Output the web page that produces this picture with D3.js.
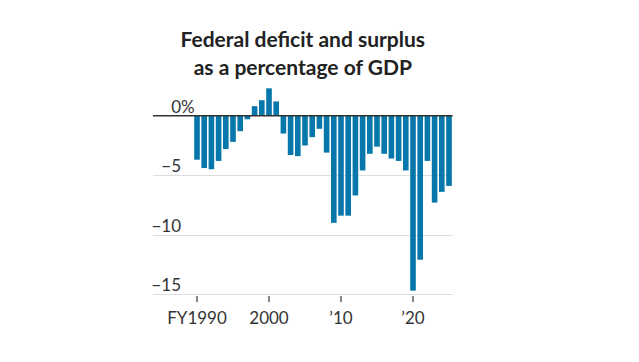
<!DOCTYPE html>
<html>
<head>
<meta charset="utf-8">
<script src="https://cdn.jsdelivr.net/npm/d3@7"></script>
<style>
  body { margin: 0; background: #fff; }
  svg text { font-family: Lato, "Noto Sans", sans-serif; }
</style>
</head>
<body>
<div id="chart"></div>
<script>
// fiscal years and deficit(-)/surplus(+) as % of GDP
const years = d3.range(1990, 2026);
const values = [
  -3.7, -4.4, -4.5, -3.8, -2.8, -2.2, -1.3, -0.3, 0.8, 1.3,
  2.3, 1.2, -1.5, -3.3, -3.4, -2.5, -1.8, -1.1, -3.1, -9.0,
  -8.4, -8.4, -6.7, -4.6, -3.2, -2.6, -3.2, -3.6, -3.8, -4.6,
  -14.7, -12.1, -3.8, -7.3, -6.4, -5.9
];
const yTicks = [0, -5, -10, -15];
const xTicks = [1990, 2000, 2010, 2020];
const xTickLabels = ["FY1990", "2000", "\u201910", "\u201920"];
const titleLines = ["Federal deficit and surplus", "as a percentage of GDP"];

const width = 639, height = 362;
const plot = {left: 153, barLeft: 193.4, right: 452.6};

const data = years.map((y, i) => ({year: y, value: values[i]}));

const svg = d3.select("#chart").append("svg")
    .attr("width", width)
    .attr("height", height);

// title
svg.append("g")
    .selectAll("text")
    .data(titleLines)
    .join("text")
        .attr("x", (plot.left + plot.right) / 2)
        .attr("y", (d, i) => 47 + i * 28)
        .attr("text-anchor", "middle")
        .style("font-size", "21px")
        .style("font-weight", "700")
        .style("fill", "#222")
        .text(d => d);

const x = d3.scaleBand()
    .domain(years)
    .range([plot.barLeft, plot.right])
    .paddingInner(0.22)
    .paddingOuter(0.11);

const y = d3.scaleLinear()
    .domain([0, -15])
    .range([115.7, 294.2]);

// grid lines
svg.append("g")
    .selectAll("line")
    .data(yTicks.filter(d => d !== 0))
    .join("line")
        .attr("x1", plot.left)
        .attr("x2", plot.right)
        .attr("y1", d => Math.round(y(d)) + 0.5)
        .attr("y2", d => Math.round(y(d)) + 0.5)
        .attr("stroke", "#dedede")
        .attr("stroke-width", 1);

// y labels, numbers right aligned, % hangs off the end
const yLab = svg.append("g")
    .selectAll("g")
    .data(yTicks)
    .join("g")
        .attr("transform", d => `translate(181, ${y(d) - 3})`);
yLab.append("text")
    .attr("text-anchor", "end")
    .style("font-size", "17px")
    .style("fill", "#333")
    .text(d => d === 0 ? "0" : "\u2212" + Math.abs(d));
yLab.filter(d => d === 0).append("text")
    .attr("text-anchor", "start")
    .style("font-size", "17px")
    .style("fill", "#333")
    .text("%");

// bars
svg.append("g")
    .selectAll("rect")
    .data(data)
    .join("rect")
        .attr("x", d => x(d.year))
        .attr("y", d => y(Math.max(0, d.value)))
        .attr("width", x.bandwidth())
        .attr("height", d => Math.abs(y(d.value) - y(0)))
        .attr("fill", "#0677aa");

// zero line
svg.append("line")
    .attr("x1", plot.left)
    .attr("x2", plot.right)
    .attr("y1", y(0))
    .attr("y2", y(0))
    .attr("stroke", "#333")
    .attr("stroke-width", 1.5);

// x ticks
const xAxis = svg.append("g")
    .selectAll("g")
    .data(xTicks)
    .join("g")
        .attr("transform", d => `translate(${x(d) + x.bandwidth() / 2}, 0)`);
xAxis.append("line")
    .attr("y1", 296)
    .attr("y2", 302)
    .attr("stroke", "#333")
    .attr("stroke-width", 1.2);
xAxis.append("text")
    .attr("y", 324)
    .attr("text-anchor", "middle")
    .style("font-size", "17px")
    .style("fill", "#333")
    .text((d, i) => xTickLabels[i]);
</script>
</body>
</html>
